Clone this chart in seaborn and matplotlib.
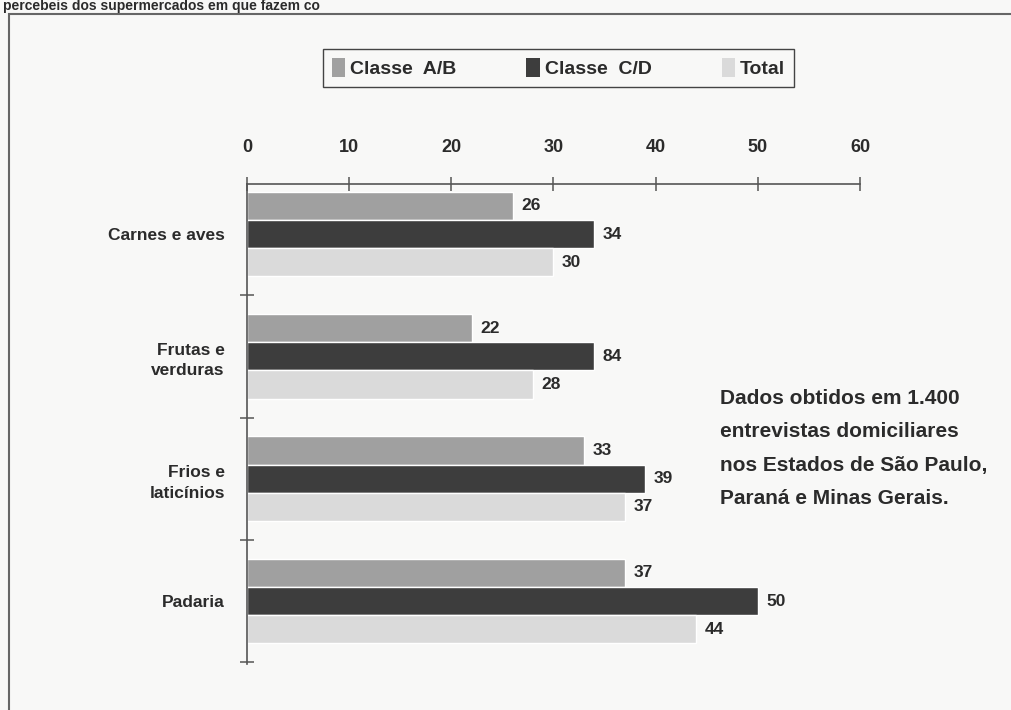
import matplotlib
matplotlib.use("Agg")
import matplotlib.pyplot as plt
import pandas as pd
import seaborn as sns
from matplotlib.patches import Patch, Rectangle

# Categories (y axis) and series
categorias = ["Carnes e aves", "Frutas e\nverduras", "Frios e\nlaticínios", "Padaria"]
series = ["Classe  A/B", "Classe  C/D", "Total"]

# Values per series (%)
classe_ab = [26, 22, 33, 37]
classe_cd = [34, 34, 39, 50]
total = [30, 28, 37, 44]

# Printed value labels per series
rotulos_ab = ["26", "22", "33", "37"]
rotulos_cd = ["34", "84", "39", "50"]
rotulos_total = ["30", "28", "37", "44"]

# Top axis ticks
eixo_x = [0, 10, 20, 30, 40, 50, 60]

nota = ("Dados obtidos em 1.400\n"
        "entrevistas domiciliares\n"
        "nos Estados de São Paulo,\n"
        "Paraná e Minas Gerais.")
linha_topo = "percebeis dos supermercados em que fazem co"

cores = {"Classe  A/B": "#a0a0a0", "Classe  C/D": "#3d3d3d", "Total": "#dadada"}
texto = "#2b2b2b"
fundo = "#f8f8f7"

sns.set_theme(style="white")
plt.rcParams["font.family"] = ["Liberation Sans", "DejaVu Sans"]
plt.rcParams["font.weight"] = "bold"

df = pd.DataFrame({
    "categoria": categorias * 3,
    "serie": [series[0]] * 4 + [series[1]] * 4 + [series[2]] * 4,
    "valor": classe_ab + classe_cd + total,
})

fig = plt.figure(figsize=(10.11, 7.10), dpi=100, facecolor=fundo)
ax = fig.add_axes([0.2443, 0.0648, 0.6063, 0.676])
ax.set_facecolor("none")

sns.barplot(data=df, y="categoria", x="valor", hue="serie", orient="h",
            order=categorias, hue_order=series, palette=cores, saturation=1,
            width=0.69, errorbar=None, legend=False, ax=ax)

for cont, rot in zip(ax.containers, [rotulos_ab, rotulos_cd, rotulos_total]):
    ax.bar_label(cont, labels=rot, padding=6, fontsize=12.5,
                 fontweight="bold", color=texto)

ax.set_xlim(0, 60)
ax.set_ylim(3.515, -0.409)
ax.set_xlabel("")
ax.set_ylabel("")

# Top value axis
ax.xaxis.tick_top()
ax.set_xticks(eixo_x)
ax.set_xticklabels([str(v) for v in eixo_x])
ax.tick_params(axis="x", direction="inout", length=10, width=1.1,
               colors="#555555", labelcolor=texto, labelsize=13, pad=15,
               top=True, bottom=False)

# Category axis with separator ticks
ax.set_yticks(range(len(categorias)))
ax.set_yticklabels(categorias, fontsize=12.5, fontweight="bold",
                   color=texto, ha="right", linespacing=1.45)
ax.tick_params(axis="y", which="major", length=0, pad=16)
ax.set_yticks([0.5, 1.5, 2.5, 3.5], minor=True)
ax.tick_params(axis="y", which="minor", direction="inout", length=10,
               width=1.1, color="#555555", left=True)

for lado in ["right", "bottom"]:
    ax.spines[lado].set_visible(False)
for lado in ["left", "top"]:
    ax.spines[lado].set_color("#555555")
    ax.spines[lado].set_linewidth(1.2)

# Legend
handles = [Patch(facecolor=cores[s], edgecolor="none") for s in series]
fig.legend(handles, series, loc="center", bbox_to_anchor=(0.5524, 0.904),
           ncol=3, frameon=True, fancybox=False, edgecolor="#444444",
           facecolor=fundo, framealpha=1, handlelength=0.7, handleheight=1.1,
           handletextpad=0.25, columnspacing=3.6, borderpad=0.45,
           prop={"size": 14, "weight": "bold"}, labelcolor=texto)

# Note
fig.text(0.712, 0.452, nota, ha="left", va="top", fontsize=15,
         fontweight="bold", color=texto, linespacing=1.95)

# Outer frame
fig.add_artist(Rectangle((9 / 1011, -0.1), 1.2, 1.0803, transform=fig.transFigure,
                         fill=False, edgecolor="#666666", linewidth=1.5))

# Running text line above the frame
fig.text(0.003, 1 - 10 / 710, linha_topo, ha="left", va="baseline", fontsize=10,
         fontweight="bold", color=texto)

fig.savefig("out.png", dpi=100, facecolor=fundo)
